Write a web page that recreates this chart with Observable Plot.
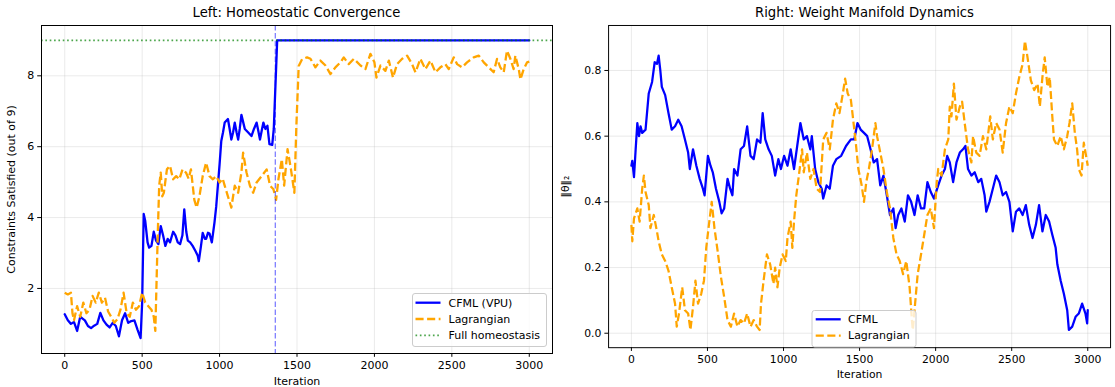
<!DOCTYPE html>
<html><head><meta charset="utf-8">
<script src="https://cdn.jsdelivr.net/npm/d3@7"></script>
<script src="https://cdn.jsdelivr.net/npm/@observablehq/plot@0.6"></script>
<style>
html,body{margin:0;padding:0;background:#fff;overflow:hidden;}
#page{position:relative;width:1115px;height:387px;overflow:hidden;font-family:"DejaVu Sans",sans-serif;}
.title{position:absolute;top:5px;font-size:13.2px;line-height:16px;text-align:center;color:#000;white-space:nowrap;}
.panel{position:absolute;top:24px;}
#overlay{position:absolute;left:0;top:0;pointer-events:none;}
</style></head>
<body><div id="page">
<div class="title" style="left:41px;width:511px">Left: Homeostatic Convergence</div>
<div class="title" style="left:609px;width:511px">Right: Weight Manifold Dynamics</div>
<div class="panel" id="left" style="left:0px"></div>
<div class="panel" id="right" style="left:557px"></div>
</div>
<script>
// ---- data: [iteration, value] ----
const xTicks = [0, 500, 1000, 1500, 2000, 2500, 3000];
const leftYTicks = [2, 4, 6, 8];
const rightYTicks = [0, 0.2, 0.4, 0.6, 0.8];
const fullHomeostasis = 9;
const convergenceIter = 1360;

const cfmlLeft = [[0,1.27],[20,1.1],[40,1.0],[60,1.05],[80,0.8],[100,1.2],[115,1.15],[130,1.1],[150,0.94],[170,0.88],[190,0.95],[210,1.0],[230,1.31],[250,1.1],[270,0.98],[290,0.9],[310,1.03],[330,0.94],[350,0.65],[370,1.1],[390,1.3],[410,1.03],[430,1.08],[450,1.1],[470,0.84],[490,0.6],[500,1.6],[510,4.1],[520,3.9],[535,3.3],[545,3.15],[560,3.2],[575,3.6],[590,3.35],[605,3.25],[620,3.76],[635,3.5],[650,3.2],[665,3.4],[680,3.3],[700,3.6],[715,3.5],[730,3.3],[745,3.25],[760,3.5],[772,4.23],[785,3.6],[795,3.35],[810,3.3],[826,3.2],[845,3.05],[859,2.92],[866,2.77],[880,3.2],[891,3.57],[905,3.4],[913,3.4],[925,3.57],[935,3.55],[950,3.3],[967,3.86],[978,4.3],[989,4.9],[1000,5.5],[1011,6.16],[1022,6.4],[1033,6.68],[1054,6.78],[1065,6.5],[1076,6.2],[1087,6.4],[1098,6.68],[1110,6.4],[1120,6.2],[1130,6.5],[1141,6.9],[1152,6.7],[1163,6.5],[1185,6.4],[1206,6.3],[1222,6.5],[1239,6.68],[1250,6.45],[1261,6.2],[1272,6.45],[1283,6.68],[1296,6.5],[1309,6.59],[1322,6.07],[1340,6.05],[1350,6.5],[1372,9],[3000,9]];

const lagLeft = [[0,1.88],[20,1.83],[40,1.88],[50,1.3],[60,1.1],[80,1.5],[100,1.2],[120,1.6],[140,1.3],[160,1.4],[180,1.79],[200,1.6],[220,1.88],[240,1.6],[260,1.74],[280,1.35],[300,1.2],[320,1.03],[340,1.13],[360,1.4],[380,1.88],[400,1.3],[420,1.2],[440,1.6],[460,1.4],[480,1.5],[500,1.88],[520,1.6],[540,1.5],[560,1.4],[575,1.2],[585,0.8],[600,3.4],[610,4.9],[620,5.27],[630,4.6],[640,4.7],[660,5.36],[680,5.46],[700,5.08],[720,5.17],[740,5.08],[761,5.36],[783,5.27],[800,5.1],[815,5.36],[837,4.5],[852,4.28],[870,4.6],[891,5.17],[913,5.55],[935,5.17],[957,5.08],[978,5.17],[1000,4.99],[1020,5.1],[1033,4.9],[1054,4.6],[1076,4.28],[1098,4.9],[1120,4.7],[1141,5.27],[1152,5.83],[1174,5.27],[1196,4.9],[1217,4.7],[1239,4.99],[1272,5.17],[1304,5.36],[1326,4.9],[1348,4.8],[1365,4.5],[1380,5.08],[1402,5.65],[1417,4.9],[1439,5.93],[1461,5.36],[1483,4.7],[1496,6.6],[1511,8.28],[1533,8.47],[1565,8.52],[1587,8.48],[1619,8.24],[1651,8.43],[1684,8.29],[1716,8.05],[1748,8.24],[1781,8.38],[1802,8.52],[1834,8.33],[1867,8.48],[1910,8.29],[1942,8.19],[1974,8.62],[1985,8.52],[2000,8.38],[2013,7.95],[2039,8.29],[2071,8.14],[2093,8.43],[2120,7.95],[2146,8.33],[2179,8.48],[2211,8.57],[2243,8.33],[2265,8.1],[2297,8.48],[2329,8.19],[2362,8.43],[2394,8.1],[2426,8.24],[2458,8.33],[2480,8.19],[2512,8.52],[2534,8.33],[2566,8.24],[2598,8.38],[2641,8.52],[2674,8.57],[2706,8.38],[2738,8.24],[2770,8.1],[2792,8.48],[2813,8.24],[2835,8.1],[2856,8.71],[2878,8.48],[2899,8.19],[2910,8.57],[2932,8.19],[2943,7.9],[2964,8.19],[2986,8.38],[3000,8.4]];

const cfmlRight = [[0,0.51],[6,0.525],[17,0.475],[28,0.56],[39,0.64],[50,0.6],[60,0.63],[71,0.61],[93,0.62],[114,0.73],[136,0.765],[153,0.825],[168,0.82],[179,0.845],[190,0.8],[200,0.75],[222,0.725],[244,0.67],[265,0.62],[287,0.63],[308,0.65],[330,0.63],[352,0.59],[373,0.55],[384,0.5],[405,0.56],[427,0.51],[449,0.47],[470,0.44],[481,0.42],[503,0.54],[520,0.51],[535,0.49],[556,0.44],[578,0.4],[593,0.365],[610,0.38],[632,0.47],[649,0.44],[664,0.42],[675,0.5],[697,0.48],[718,0.56],[740,0.57],[761,0.63],[783,0.54],[804,0.53],[826,0.59],[848,0.58],[863,0.67],[880,0.59],[902,0.56],[923,0.54],[945,0.48],[966,0.53],[983,0.5],[1004,0.54],[1026,0.51],[1047,0.56],[1069,0.5],[1090,0.57],[1111,0.64],[1133,0.59],[1154,0.6],[1176,0.56],[1186,0.6],[1208,0.5],[1229,0.46],[1251,0.44],[1261,0.41],[1283,0.45],[1304,0.44],[1325,0.51],[1347,0.53],[1379,0.54],[1411,0.57],[1443,0.59],[1465,0.59],[1486,0.64],[1507,0.62],[1529,0.61],[1550,0.6],[1572,0.56],[1593,0.52],[1615,0.53],[1636,0.45],[1657,0.48],[1679,0.42],[1700,0.36],[1722,0.38],[1737,0.32],[1754,0.36],[1775,0.38],[1797,0.34],[1818,0.42],[1839,0.4],[1861,0.36],[1882,0.42],[1904,0.38],[1925,0.38],[1946,0.46],[1968,0.43],[1989,0.41],[2017,0.45],[2039,0.48],[2061,0.5],[2076,0.54],[2093,0.52],[2115,0.46],[2137,0.52],[2159,0.55],[2180,0.56],[2196,0.57],[2213,0.5],[2235,0.48],[2257,0.49],[2280,0.46],[2300,0.47],[2322,0.42],[2333,0.37],[2354,0.4],[2376,0.44],[2398,0.48],[2420,0.46],[2441,0.42],[2463,0.43],[2485,0.4],[2507,0.31],[2528,0.37],[2550,0.38],[2572,0.36],[2593,0.39],[2615,0.33],[2637,0.29],[2659,0.33],[2680,0.39],[2702,0.31],[2724,0.36],[2746,0.34],[2767,0.3],[2789,0.26],[2800,0.21],[2822,0.16],[2843,0.12],[2865,0.07],[2876,0.01],[2898,0.02],[2920,0.05],[2941,0.06],[2963,0.09],[2985,0.06],[2996,0.03],[3000,0.07]];

const lagRight = [[0,0.33],[6,0.28],[17,0.35],[39,0.38],[54,0.34],[71,0.44],[82,0.48],[93,0.43],[114,0.39],[125,0.32],[147,0.36],[168,0.31],[179,0.28],[200,0.24],[222,0.22],[244,0.19],[265,0.14],[287,0.09],[298,0.02],[313,0.06],[334,0.14],[352,0.07],[373,0.06],[388,0.01],[405,0.08],[421,0.16],[438,0.09],[459,0.12],[477,0.16],[492,0.26],[507,0.32],[528,0.4],[546,0.32],[567,0.25],[589,0.17],[610,0.11],[632,0.04],[654,0.02],[675,0.06],[697,0.02],[718,0.04],[740,0.03],[761,0.06],[783,0.02],[804,0.04],[826,0.02],[843,0.01],[852,0.09],[869,0.16],[891,0.24],[912,0.21],[934,0.15],[945,0.2],[960,0.14],[975,0.2],[994,0.24],[1015,0.22],[1026,0.29],[1047,0.34],[1058,0.26],[1069,0.34],[1084,0.42],[1101,0.48],[1122,0.56],[1133,0.49],[1154,0.55],[1176,0.47],[1197,0.5],[1218,0.44],[1240,0.43],[1261,0.59],[1283,0.61],[1304,0.56],[1325,0.65],[1347,0.7],[1368,0.67],[1390,0.73],[1405,0.775],[1422,0.73],[1443,0.71],[1458,0.65],[1475,0.58],[1492,0.5],[1514,0.45],[1529,0.4],[1544,0.46],[1561,0.5],[1582,0.56],[1604,0.64],[1615,0.6],[1636,0.55],[1657,0.5],[1679,0.43],[1700,0.38],[1722,0.29],[1743,0.24],[1764,0.22],[1786,0.18],[1807,0.22],[1829,0.14],[1844,0.04],[1850,0.01],[1865,0.09],[1882,0.18],[1904,0.24],[1925,0.3],[1946,0.36],[1968,0.38],[1989,0.32],[2007,0.46],[2017,0.5],[2039,0.48],[2061,0.56],[2083,0.59],[2093,0.69],[2104,0.66],[2120,0.76],[2137,0.65],[2159,0.69],[2174,0.705],[2191,0.64],[2213,0.56],[2235,0.52],[2246,0.6],[2267,0.55],[2289,0.54],[2311,0.6],[2333,0.56],[2359,0.66],[2376,0.59],[2398,0.64],[2420,0.62],[2441,0.55],[2463,0.64],[2485,0.69],[2507,0.67],[2528,0.73],[2550,0.78],[2572,0.82],[2587,0.89],[2604,0.84],[2626,0.77],[2648,0.74],[2670,0.76],[2685,0.69],[2702,0.78],[2717,0.84],[2735,0.75],[2750,0.78],[2767,0.66],[2778,0.59],[2800,0.57],[2822,0.6],[2843,0.56],[2865,0.6],[2880,0.64],[2898,0.7],[2915,0.61],[2930,0.56],[2941,0.5],[2959,0.48],[2974,0.58],[2989,0.54],[3000,0.51]];

// ---- styles ----
const BLUE = "#0000ff", ORANGE = "#ffa500";
const DASH = "8.1,3.5";
const LW = 2.3;
const gridStyle = {stroke: "#b0b0b0", strokeOpacity: 0.3, strokeWidth: 0.9};
const baseStyle = {fontFamily: "DejaVu Sans", fontSize: "11px", color: "#000", background: "transparent", overflow: "visible"};

const left = Plot.plot({
  width: 557, height: 363,
  marginLeft: 41, marginRight: 5, marginTop: 1, marginBottom: 34,
  style: baseStyle,
  x: {domain: [-150, 3150], ticks: xTicks, tickSize: 3.8, tickPadding: 3.5, tickFormat: d3.format("d"),
      label: "Iteration", labelAnchor: "center", labelArrow: "none"},
  y: {domain: [0.164, 9.42], ticks: leftYTicks, tickSize: 3.8, tickPadding: 3.5, tickFormat: d3.format("d"),
      label: "Constraints Satisfied (out of 9)", labelAnchor: "center", labelOffset: 34, labelArrow: "none"},
  marks: [
    Plot.gridX(xTicks, gridStyle),
    Plot.gridY(leftYTicks, gridStyle),
    Plot.line(cfmlLeft, {x: d => d[0], y: d => d[1], stroke: BLUE, strokeWidth: LW}),
    Plot.line(lagLeft, {x: d => d[0], y: d => d[1], stroke: ORANGE, strokeWidth: LW, strokeDasharray: DASH, strokeLinecap: "butt"}),
    Plot.ruleY([fullHomeostasis], {stroke: "#008000", strokeOpacity: 0.7, strokeWidth: 1.65, strokeDasharray: "1.65,2.7"}),
    Plot.ruleX([convergenceIter], {stroke: BLUE, strokeOpacity: 0.5, strokeWidth: 1.3, strokeDasharray: "5.5,2.4"}),
    Plot.frame({stroke: "#000", strokeWidth: 1})
  ]
});
document.getElementById("left").appendChild(left);

const right = Plot.plot({
  width: 568, height: 363,
  marginLeft: 52, marginRight: 5, marginTop: 1, marginBottom: 34,
  style: baseStyle,
  x: {domain: [-150, 3150], ticks: xTicks, tickSize: 3.8, tickPadding: 3.5, tickFormat: d3.format("d"),
      label: "Iteration", labelAnchor: "center", labelArrow: "none"},
  y: {domain: [-0.044, 0.937], ticks: rightYTicks, tickSize: 3.8, tickPadding: 3.5, tickFormat: d3.format(".1f"),
      label: "‖θ‖₂", labelAnchor: "center", labelOffset: 48, labelArrow: "none"},
  marks: [
    Plot.gridX(xTicks, gridStyle),
    Plot.gridY(rightYTicks, gridStyle),
    Plot.line(cfmlRight, {x: d => d[0], y: d => d[1], stroke: BLUE, strokeWidth: LW}),
    Plot.line(lagRight, {x: d => d[0], y: d => d[1], stroke: ORANGE, strokeWidth: LW, strokeDasharray: DASH, strokeLinecap: "butt"}),
    Plot.frame({stroke: "#000", strokeWidth: 1})
  ]
});
document.getElementById("right").appendChild(right);

// ---- legends (overlay) ----
const ov = d3.select("#page").append("svg").attr("id", "overlay")
  .attr("width", 1115).attr("height", 387)
  .style("font-family", "DejaVu Sans").style("font-size", "11px");

function legend(x, y, w, h, lineX, textX, rowY, items) {
  ov.append("rect").attr("x", x).attr("y", y).attr("width", w).attr("height", h)
    .attr("rx", 2.5).attr("fill", "#fff").attr("fill-opacity", 0.8)
    .attr("stroke", "#cccccc").attr("stroke-width", 1);
  items.forEach((it, i) => {
    const yy = rowY + i * 16.3;
    ov.append("line").attr("x1", lineX).attr("x2", lineX + 25).attr("y1", yy).attr("y2", yy)
      .attr("stroke", it.color).attr("stroke-width", it.width)
      .attr("stroke-opacity", it.opacity || 1)
      .attr("stroke-dasharray", it.dash || null);
    ov.append("text").attr("x", textX).attr("y", yy).attr("dy", "0.35em")
      .attr("fill", "#000").text(it.label);
  });
}
legend(412.5, 293.5, 134, 53, 415.5, 448.5, 302.7, [
  {label: "CFML (VPU)", color: BLUE, width: LW},
  {label: "Lagrangian", color: ORANGE, width: LW, dash: DASH},
  {label: "Full homeostasis", color: "#008000", width: 1.65, dash: "1.65,2.7", opacity: 0.7}
]);
legend(812, 310.5, 104, 36.5, 815.7, 848, 319.3, [
  {label: "CFML", color: BLUE, width: LW},
  {label: "Lagrangian", color: ORANGE, width: LW, dash: DASH}
]);
</script>
</body></html>
